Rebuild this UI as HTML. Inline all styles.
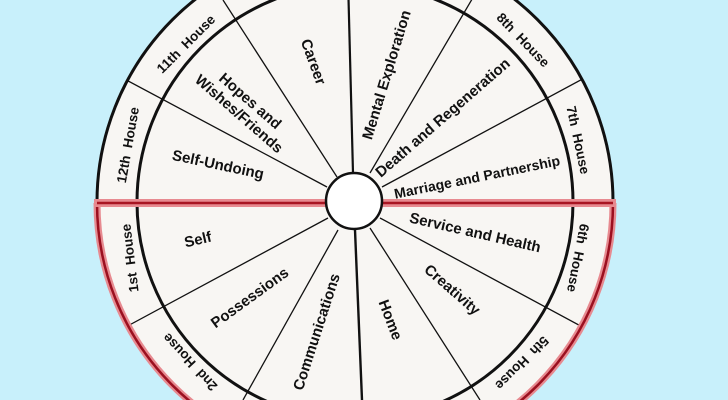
<!DOCTYPE html>
<html><head><meta charset="utf-8"><style>
html,body{margin:0;padding:0;background:#c8f0fb;width:728px;height:400px;overflow:hidden}
svg{display:block}
text{font-family:"Liberation Sans",Arial,sans-serif;font-weight:bold;fill:#111;text-anchor:middle;dominant-baseline:central}
.s{font-size:15px}
.h{font-size:13.5px;word-spacing:4px}
</style></head><body>
<svg width="728" height="400" viewBox="0 0 728 400" xmlns="http://www.w3.org/2000/svg">
<defs><clipPath id="c"><circle cx="355" cy="202" r="258"/></clipPath></defs>
<rect width="728" height="400" fill="#c8f0fb"/>
<circle cx="355" cy="202" r="258" fill="#f8f6f3" stroke="#111" stroke-width="3"/>
<circle cx="355" cy="202" r="218" fill="none" stroke="#111" stroke-width="3"/>
<g clip-path="url(#c)" stroke="#111" stroke-width="1.3">
<line x1="327" y1="187" x2="-63" y2="-21"/>
<line x1="337" y1="177" x2="223" y2="0"/>
<line x1="353" y1="173" x2="347" y2="-60" stroke-width="2.2"/>
<line x1="370" y1="173" x2="505" y2="-57"/>
<line x1="382" y1="187" x2="772" y2="-23"/>
<line x1="380" y1="218" x2="770" y2="428"/>
<line x1="370" y1="228" x2="480" y2="400"/>
<line x1="355" y1="230" x2="362" y2="400" stroke-width="2.4"/>
<line x1="338" y1="230" x2="243" y2="400"/>
<line x1="328" y1="218" x2="-58" y2="426"/>
</g>
<path d="M97,203 A258,258 0 0 0 613,203" fill="none" stroke="#e78a90" stroke-width="7"/>
<path d="M97,203 A258,258 0 0 0 613,203" fill="none" stroke="#9b1020" stroke-width="2.5"/>
<line x1="94" y1="203" x2="616" y2="203" stroke="#e78a90" stroke-width="8"/>
<line x1="97" y1="203" x2="613" y2="203" stroke="#a81522" stroke-width="2.5"/>
<circle cx="354" cy="201" r="28" fill="#fff" stroke="#111" stroke-width="2.5"/>

<text class="h" transform="translate(186,44) rotate(-45)">11th House</text>
<text class="h" transform="translate(128,145) rotate(-80)">12th House</text>
<text class="h" transform="translate(130,258) rotate(-97)">1st House</text>
<text class="h" transform="translate(190,362) rotate(-133)">2nd House</text>
<text class="h" transform="translate(522,363) rotate(135)">5th House</text>
<text class="h" transform="translate(578,258) rotate(101)">6th House</text>
<text class="h" transform="translate(578,140) rotate(78)">7th House</text>
<text class="h" transform="translate(523,40) rotate(46)">8th House</text>

<text class="s" transform="translate(245,107) rotate(41)"><tspan x="0" dy="-8">Hopes and</tspan><tspan x="0" dy="17">Wishes/Friends</tspan></text>
<text class="s" transform="translate(313,62) rotate(70)">Career</text>
<text class="s" transform="translate(218,165) rotate(12)">Self-Undoing</text>
<text class="s" transform="translate(387,75) rotate(-73)">Mental Exploration</text>
<text class="s" transform="translate(443,118) rotate(-41)">Death and Regeneration</text>
<text class="s" transform="translate(477,177) rotate(-11.5)" style="font-size:14px">Marriage and Partnership</text>
<text class="s" transform="translate(475,233) rotate(13)">Service and Health</text>
<text class="s" transform="translate(452,290) rotate(41)">Creativity</text>
<text class="s" transform="translate(390,320) rotate(69)">Home</text>
<text class="s" transform="translate(317,332) rotate(-72)">Communications</text>
<text class="s" transform="translate(250,298) rotate(-36)">Possessions</text>
<text class="s" transform="translate(198,240) rotate(-13)">Self</text>
</svg>
</body></html>
